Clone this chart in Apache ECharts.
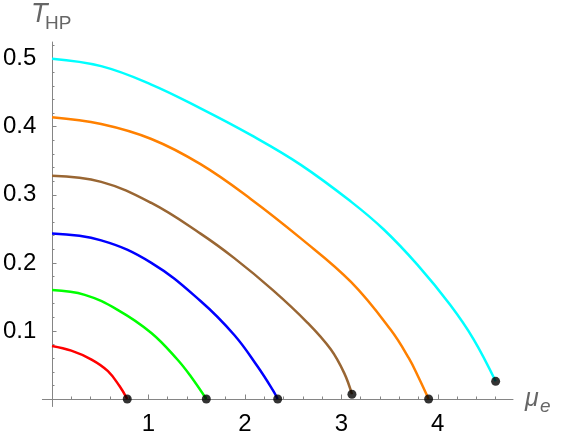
<!DOCTYPE html>
<html>
<head>
<meta charset="utf-8">
<script src="https://cdn.jsdelivr.net/npm/echarts@6/dist/echarts.min.js"></script>
<style>
html, body { margin: 0; padding: 0; background: #fff; }
#chart { width: 563px; height: 441px; }
</style>
</head>
<body>
<div id="chart"></div>
<script>
// curves: [mu_e, T_HP]
var redCurve = [[0, 0.078], [0.20, 0.071], [0.41, 0.058], [0.58, 0.041], [0.70, 0.019], [0.78, 0]];
var greenCurve = [[0, 0.160], [0.34, 0.153], [0.68, 0.131], [1.03, 0.097], [1.30, 0.058], [1.44, 0.033], [1.60, 0]];
var blueCurve = [[0, 0.243], [0.51, 0.233], [1.03, 0.200], [1.54, 0.144], [1.89, 0.094], [2.13, 0.048], [2.29, 0.013], [2.34, 0]];
var brownCurve = [[0, 0.328], [0.51, 0.319], [1.03, 0.288], [1.54, 0.243], [1.89, 0.207], [2.29, 0.160], [2.65, 0.112], [2.89, 0.073], [3.03, 0.038], [3.11, 0.007]];
var orangeCurve = [[0, 0.414], [0.51, 0.404], [1.03, 0.382], [1.54, 0.345], [2.06, 0.294], [2.58, 0.236], [3.10, 0.172], [3.51, 0.102], [3.70, 0.060], [3.80, 0.032], [3.905, 0]];
var cyanCurve = [[0, 0.500], [0.51, 0.489], [1.03, 0.462], [1.54, 0.427], [2.06, 0.388], [2.58, 0.344], [3.10, 0.290], [3.44, 0.249], [3.79, 0.197], [4.13, 0.138], [4.37, 0.088], [4.60, 0.026]];

var curves = [redCurve, greenCurve, blueCurve, brownCurve, orangeCurve, cyanCurve];
var curveColors = ['#ff0000', '#00ff00', '#0000ff', '#996633', '#ff8000', '#00ffff'];

// ticks
var xMajor = [1, 2, 3, 4];
var xMinor = [0.2, 0.4, 0.6, 0.8, 1.2, 1.4, 1.6, 1.8, 2.2, 2.4, 2.6, 2.8, 3.2, 3.4, 3.6, 3.8, 4.2, 4.4, 4.6];
var yMajor = [0.1, 0.2, 0.3, 0.4, 0.5];
var yMinor = [0.02, 0.04, 0.06, 0.08, 0.12, 0.14, 0.16, 0.18, 0.22, 0.24, 0.26, 0.28,
	0.32, 0.34, 0.36, 0.38, 0.42, 0.44, 0.46, 0.48, 0.52];

var axisGray = '#858585';
var labelFont = 'Liberation Sans, Arial, sans-serif';

var chart = echarts.init(document.getElementById('chart'));

var series = curves.map(function (c, i) {
	return {
		type: 'line',
		data: c,
		showSymbol: false,
		smooth: 0.4,
		lineStyle: { color: curveColors[i], width: 2.5 },
		z: 2
	};
});

//end dots
series.push({
	type: 'scatter',
	data: curves.map(function (c) { return c[c.length - 1]; }),
	symbolSize: 9,
	itemStyle: { color: '#000' },
	z: 5
});

//second axis, only for the short minor ticks
function minorAxis(pos, min, max, values) {
	return {
		type: 'value',
		position: pos,
		min: min,
		max: max,
		axisLine: { show: false, onZero: true, onZeroAxisIndex: 0 },
		axisTick: { show: true, inside: false, length: 2.5, customValues: values, lineStyle: { color: axisGray } },
		axisLabel: { show: false },
		splitLine: { show: false }
	};
}

chart.setOption({
	animation: false,
	backgroundColor: '#fff',
	grid: { left: 41, right: 50, top: 42, bottom: 34.5 },
	xAxis: [{
		type: 'value',
		position: 'bottom',
		min: -0.1,
		max: 4.78,
		axisLine: { show: true, onZero: true, onZeroAxisIndex: 0, lineStyle: { color: axisGray, width: 1 } },
		axisTick: { show: true, inside: true, length: 4.5, customValues: xMajor, lineStyle: { color: axisGray } },
		axisLabel: { customValues: xMajor, margin: 6, color: '#000', fontSize: 24, fontFamily: labelFont },
		splitLine: { show: false }
	}, minorAxis('top', -0.1, 4.78, xMinor)],
	yAxis: [{
		type: 'value',
		position: 'left',
		min: -0.011,
		max: 0.5245,
		axisLine: { show: true, onZero: true, onZeroAxisIndex: 0, lineStyle: { color: axisGray, width: 1 } },
		axisTick: { show: true, inside: true, length: 4.5, customValues: yMajor, lineStyle: { color: axisGray } },
		axisLabel: { customValues: yMajor, margin: 6, color: '#000', fontSize: 24, fontFamily: labelFont,
			formatter: function (v) { return v.toFixed(1); } },
		splitLine: { show: false }
	}, minorAxis('right', -0.011, 0.5245, yMinor)],
	graphic: [
		{ type: 'text', x: 31, y: 14.6, style: { text: 'T', font: 'italic 27px ' + labelFont, fill: '#666', align: 'left', verticalAlign: 'middle' } },
		{ type: 'text', x: 45, y: 23.4, style: { text: 'HP', font: '19px ' + labelFont, fill: '#666', align: 'left', verticalAlign: 'middle' } },
		{ type: 'text', x: 525, y: 399.3, style: { text: 'μ', font: 'italic 25px ' + labelFont, fill: '#666', align: 'left', verticalAlign: 'middle' } },
		{ type: 'text', x: 540, y: 406.7, style: { text: 'e', font: 'italic 19px ' + labelFont, fill: '#666', align: 'left', verticalAlign: 'middle' } }
	],
	series: series
});
</script>
</body>
</html>
